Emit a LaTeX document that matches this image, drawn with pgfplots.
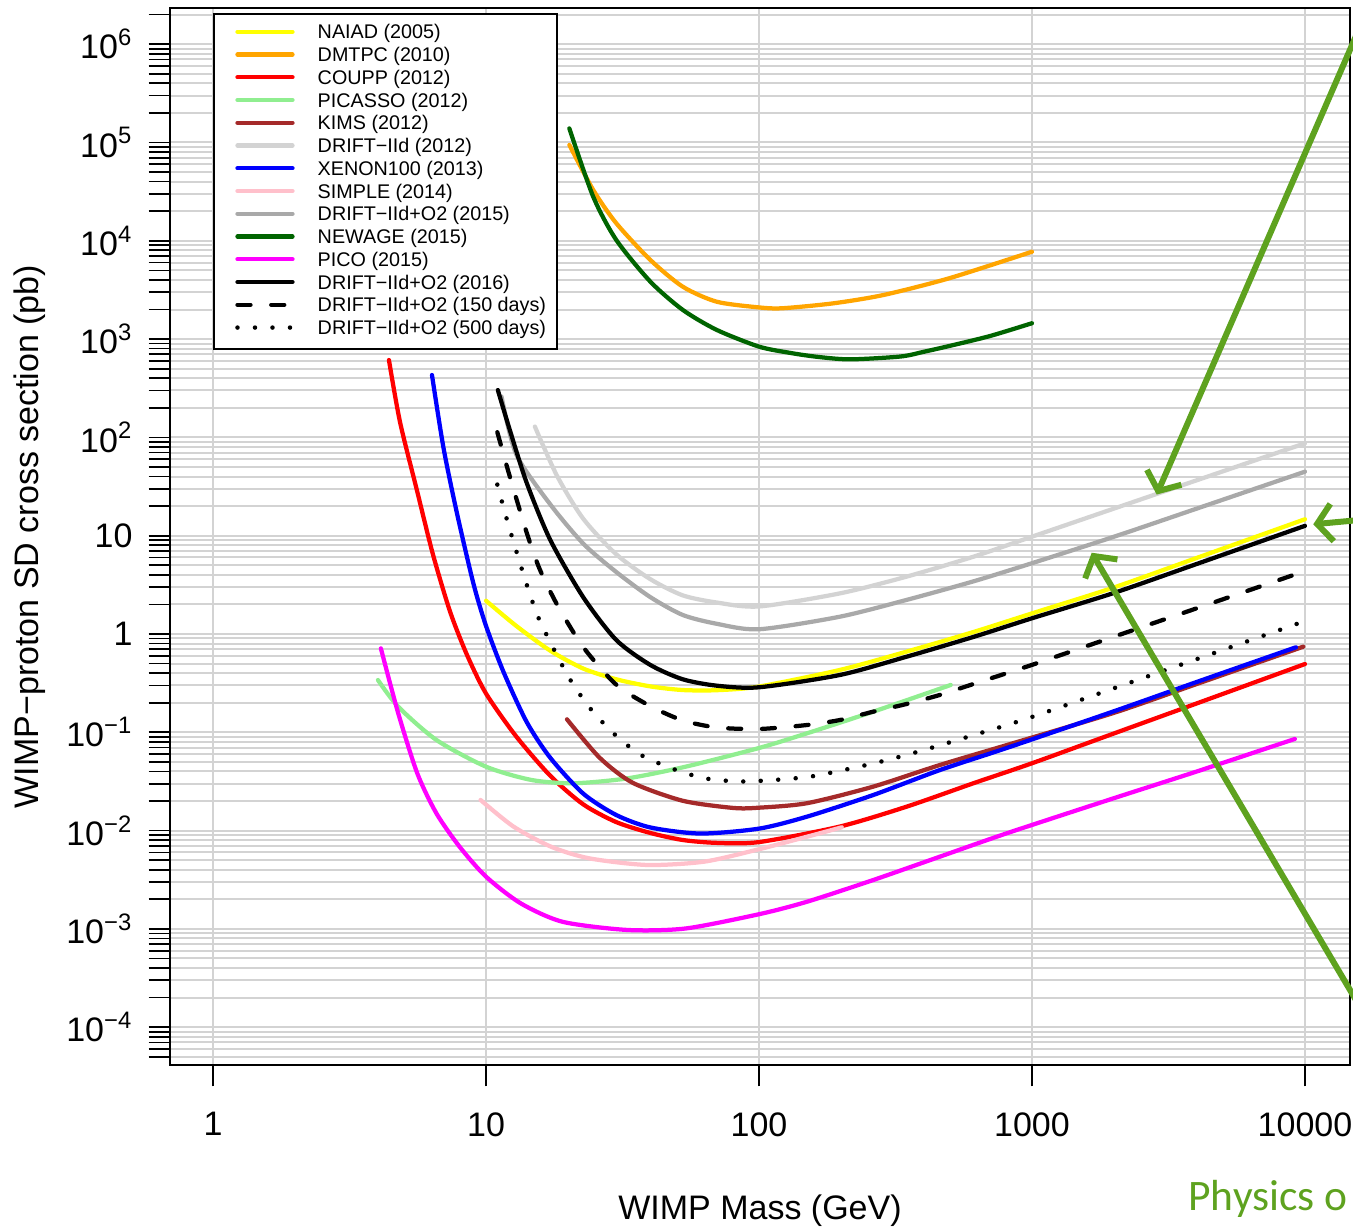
\documentclass[border=0pt]{standalone}
\usepackage{fontspec}
\setmainfont{Liberation Sans}
\newfontfamily\calibri{Carlito}
\usepackage{pgfplots}
\pgfplotsset{compat=1.18}
\usetikzlibrary{arrows.meta}

% R colour names
\definecolor{naiad}{HTML}{FFFF00}
\definecolor{dmtpc}{HTML}{FFA500}
\definecolor{coupp}{HTML}{FF0000}
\definecolor{picasso}{HTML}{90EE90}
\definecolor{kims}{HTML}{A52A2A}
\definecolor{driftold}{HTML}{D3D3D3}
\definecolor{xenon}{HTML}{0000FF}
\definecolor{simple}{HTML}{FFC0CB}
\definecolor{driftox}{HTML}{A9A9A9}
\definecolor{newage}{HTML}{006400}
\definecolor{pico}{HTML}{FF00FF}
\definecolor{gridc}{HTML}{D3D3D3}
\definecolor{slidegreen}{HTML}{5EA21F}

\begin{document}
\begin{tikzpicture}
\begin{axis}[
  scale only axis,
  width=472pt, height=422.8pt,
  xmode=log, ymode=log,
  xmin=0.6957, xmax=14620,
  ymin=4.125e-5, ymax=2.335e6,
  xtick={1,10,100,1000,10000},
  xticklabels={1,10,100,1000,10000},
  xminorticks=false,
  ytick={1e-4,1e-3,1e-2,1e-1,1,10,100,1000,1e4,1e5,1e6},
  yticklabels={10\textsuperscript{−4},10\textsuperscript{−3},10\textsuperscript{−2},10\textsuperscript{−1},1,10,10\textsuperscript{2},10\textsuperscript{3},10\textsuperscript{4},10\textsuperscript{5},10\textsuperscript{6}},
  minor ytick={5e-5,6e-5,7e-5,8e-5,9e-5,
    2e-4,3e-4,4e-4,5e-4,6e-4,7e-4,8e-4,9e-4,
    2e-3,3e-3,4e-3,5e-3,6e-3,7e-3,8e-3,9e-3,
    2e-2,3e-2,4e-2,5e-2,6e-2,7e-2,8e-2,9e-2,
    0.2,0.3,0.4,0.5,0.6,0.7,0.8,0.9,
    2,3,4,5,6,7,8,9,
    20,30,40,50,60,70,80,90,
    200,300,400,500,600,700,800,900,
    2000,3000,4000,5000,6000,7000,8000,9000,
    2e4,3e4,4e4,5e4,6e4,7e4,8e4,9e4,
    2e5,3e5,4e5,5e5,6e5,7e5,8e5,9e5,
    2e6},
  tick align=outside,
  tick pos=left,
  major tick length=8.6pt,
  minor tick length=8.6pt,
  tick style={black, line width=0.7pt},
  xticklabel shift=6.9pt,
  yticklabel shift=2.9pt,
  tick label style={font=\fontsize{13.6}{16}\selectfont},
  xmajorgrids, ymajorgrids, yminorgrids,
  major grid style={gridc, line width=0.8pt},
  minor grid style={gridc, line width=0.8pt},
  axis line style={black, line width=0.8pt},
  xlabel={WIMP Mass (GeV)},
  ylabel={WIMP−proton SD cross section (pb)},
  label style={font=\fontsize{13.6}{16}\selectfont},
  xlabel style={at={(axis description cs:0.5,-0.1377)}, anchor=center},
  ylabel style={at={(axis description cs:-0.1186,0.5)}, anchor=center},
  legend cell align=left,
  legend style={at={(rel axis cs:0.03644,0.9953)}, anchor=north west,
    draw=black, line width=0.8pt, fill=white,
    inner xsep=4.4pt, inner ysep=3.3pt, row sep=0pt, column sep=9.2pt,
    font=\fontsize{7.9}{9.1}\selectfont,
    nodes={inner xsep=0pt, inner ysep=0.85pt, text height=5.8pt, text depth=1.6pt}},
  legend image code/.code={\path (0pt,0pt); \draw[#1] (4.1pt,0.7pt) -- (26.1pt,0.7pt);},
  every axis plot/.append style={line cap=round, line join=round, smooth, tension=0.45},
  clip mode=individual,
]

\addplot[naiad, line width=1.7pt] coordinates {
  (10,2.18)(12.9,1.21)(17.2,0.676)(22.7,0.445)(30,0.346)(40,0.293)(52.6,0.269)
  (70,0.268)(100,0.292)(198,0.431)(347,0.661)(610,1.047)(1000,1.62)(2000,2.98)
  (4000,5.92)(10000,14.7)};
\addlegendentry{NAIAD (2005)}

\addplot[dmtpc, line width=1.7pt] coordinates {
  (20.2,94400)(24.7,32900)(30,15100)(40,6380)(52.6,3410)(70,2400)(100,2100)
  (122,2060)(187,2310)(286,2810)(498,4160)(1000,7740)};
\addlegendentry{DMTPC (2010)}

\addplot[coupp, line width=1.7pt] coordinates {
  (4.41,612)(4.84,144)(5.58,29.2)(6.39,6.47)(7.38,1.70)(8.5,0.621)(10,0.248)
  (12.9,0.0908)(17.2,0.0361)(22.7,0.0185)(30,0.0122)(40,0.00946)(52.6,0.00802)
  (70,0.0075)(100,0.00764)(198,0.011)(347,0.0175)(610,0.0303)(1000,0.0484)
  (2000,0.0975)(4000,0.196)(10000,0.495)};
\addlegendentry{COUPP (2012)}

\addplot[picasso, line width=1.7pt] coordinates {
  (4.02,0.340)(4.77,0.182)(6.58,0.0836)(10,0.0447)(14.7,0.0327)(21,0.0303)
  (33,0.034)(53.9,0.0447)(100,0.0692)(150,0.0977)(262,0.162)(504,0.303)};
\addlegendentry{PICASSO (2012)}

\addplot[kims, line width=1.7pt] coordinates {
  (19.8,0.1355)(26.1,0.055)(34.5,0.0306)(52.6,0.0201)(80.5,0.017)(100,0.0171)
  (150,0.019)(262,0.028)(460,0.0465)(808,0.0741)(2000,0.158)(4000,0.309)(9860,0.743)};
\addlegendentry{KIMS (2012)}

\addplot[driftold, line width=1.7pt] coordinates {
  (15.1,129)(18.2,40.7)(22.7,14.9)(30,6.47)(40,3.61)(52.6,2.47)(70,2.09)
  (100,1.905)(198,2.59)(347,3.83)(610,6.11)(1000,9.77)(2000,18.9)(4000,36.5)(10000,87.1)};
\addlegendentry{DRIFT−IId (2012)}

\addplot[xenon, line width=1.7pt] coordinates {
  (6.34,431)(6.98,79.6)(7.8,17.7)(8.98,3.31)(10,1.21)(11.6,0.409)(14.1,0.127)
  (17.2,0.055)(22.7,0.0238)(30,0.0144)(40,0.01076)(61,0.00933)(100,0.01047)
  (150,0.01387)(262,0.023)(460,0.0413)(808,0.0692)(2000,0.164)(4000,0.324)(9270,0.733)};
\addlegendentry{XENON100 (2013)}

\addplot[simple, line width=1.7pt] coordinates {
  (9.55,0.0205)(12.6,0.011)(17.3,0.00686)(23.9,0.00522)(38.9,0.00447)
  (63,0.00483)(100,0.00646)(150,0.00867)(201,0.0108)};
\addlegendentry{SIMPLE (2014)}

\addplot[driftox, line width=1.7pt] coordinates {
  (11.4,260)(12.9,67.3)(17.2,20.8)(22.7,8.32)(30,4.27)(40,2.37)(52.6,1.56)
  (70,1.27)(100,1.117)(198,1.50)(347,2.22)(610,3.43)(1000,5.25)(2000,9.77)
  (4000,18.8)(10000,44.8)};
\addlegendentry{DRIFT−IId+O2 (2015)}

\addplot[newage, line width=1.7pt] coordinates {
  (20.2,139000)(24.7,28100)(30,10200)(40,3840)(52.6,1980)(70,1240)(100,838)
  (130,724)(162,662)(215,622)(330,665)(400,741)(498,851)(700,1072)(1000,1450)};
\addlegendentry{NEWAGE (2015)}

\addplot[pico, line width=1.7pt] coordinates {
  (4.12,0.714)(4.77,0.156)(5.6,0.0383)(6.58,0.015)(8,0.00686)(10,0.0034)
  (13.4,0.00182)(19.1,0.00118)(33,0.000975)(53.9,0.00101)(100,0.00141)
  (150,0.00189)(262,0.00314)(460,0.00543)(808,0.00938)(2000,0.0214)
  (4000,0.0398)(9180,0.0855)};
\addlegendentry{PICO (2015)}

\addplot[black, line width=1.7pt] coordinates {
  (11.05,303)(12.2,121)(14.1,34.4)(17.2,9.04)(22.7,2.37)(30,0.869)(40,0.484)
  (52.6,0.346)(70,0.298)(100,0.287)(198,0.383)(347,0.587)(610,0.933)
  (1000,1.445)(2000,2.62)(4000,5.14)(10000,12.6)};
\addlegendentry{DRIFT−IId+O2 (2016)}

\addplot[black, line width=1.7pt, dash pattern=on 5.2pt off 8.3pt] coordinates {
  (11,113)(12.2,40.7)(14.1,10.7)(15.7,4.62)(18.2,2.0)(22.7,0.736)(30,0.305)
  (40,0.1845)(52.6,0.132)(70,0.112)(100,0.108)(150,0.1186)(198,0.1334)
  (262,0.162)(347,0.194)(460,0.24)(610,0.31)(1000,0.485)(2000,0.94)(4000,1.82)(9860,4.31)};
\addlegendentry{DRIFT−IId+O2 (150 days)}

\addplot[black, line width=1.8pt, dash pattern=on 0pt off 7pt] coordinates {
  (11,33.1)(11.9,14.9)(12.9,7.03)(14.1,3.18)(15.5,1.50)(17.7,0.705)(20.3,0.346)
  (24,0.177)(29.2,0.0986)(36.6,0.0597)(48,0.0428)(63,0.0341)(85,0.0316)
  (113,0.0327)(153,0.0353)(204,0.0413)(270,0.0491)(357,0.0601)(473,0.0755)
  (626,0.0955)(830,0.121)(1094,0.156)(2000,0.281)(4000,0.553)(10000,1.355)};
\addlegendentry{DRIFT−IId+O2 (500 days)}

% slide annotations
\draw[slidegreen, line width=2.4pt, line cap=round, -{Straight Barb[length=6pt,width=15pt]}]
  (axis cs:15850,1.47e6) -- (axis cs:2863,26.2);
\draw[slidegreen, line width=2.4pt, line cap=round, -{Straight Barb[length=6pt,width=15pt]}]
  (axis cs:15900,14.45) -- (axis cs:10725,13.06);
\draw[slidegreen, line width=2.4pt, line cap=round, -{Straight Barb[length=6pt,width=15pt]}]
  (axis cs:16180,1.486e-4) -- (axis cs:1655,6.71);
\end{axis}
\node[anchor=base west, inner sep=0pt, text=slidegreen, font=\calibri\fontsize{17.4}{20}\selectfont]
  at (407.2pt,-58.4pt) {Physics o};
\pgfresetboundingbox
\useasboundingbox (-68pt,-65.6pt) rectangle (473.2pt,426pt);
\end{tikzpicture}
\end{document}
